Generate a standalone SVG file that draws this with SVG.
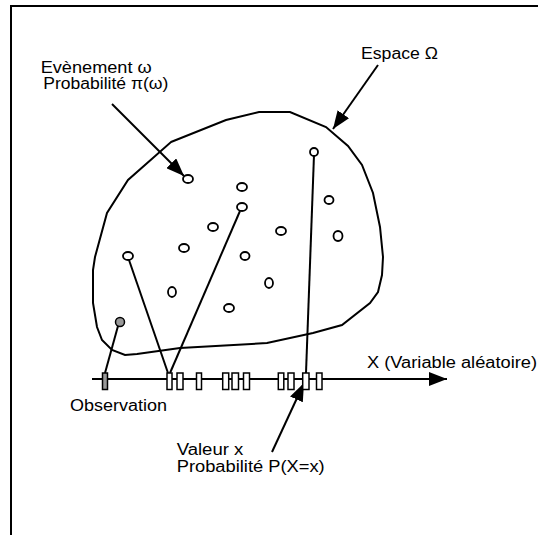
<svg xmlns="http://www.w3.org/2000/svg" width="538" height="535" viewBox="0 0 538 535">
<style>
.ln{fill:none;stroke:#000;stroke-width:2}
.dot{fill:#fff;stroke:#000;stroke-width:1.8}
.box{fill:#fff;stroke:#000;stroke-width:1.5}
.t{font-family:"Liberation Sans",Arial,sans-serif;font-size:16px;fill:#000}
</style>
<defs>
<marker id="ah" viewBox="0 0 18 14" refX="18" refY="7" markerWidth="18" markerHeight="14" markerUnits="userSpaceOnUse" orient="auto">
<path d="M0,0 L18,7 L0,14 Z" fill="#000"/>
</marker>
</defs>
<rect x="11" y="6" width="600" height="600" fill="#fff" stroke="#000" stroke-width="2"/>
<g id="espace">
<path class="ln" d="M171,142 L226,120 L259,112 L290,112 L326,127 L348,146 L362,165 L373,193 L380,227 L383,257 L382,275 L378,292 L370,303 L342,325 L313,333 L267,343 L180,348 L137,354 L125,355 L112,350 L102,340 L97,327 L93,303 L93,270 L95,257 L107,213 L128,180 Z"/>
</g>
<g id="connectors">
<line class="ln" x1="92" y1="379" x2="447" y2="379" marker-end="url(#ah)"/>
<line class="ln" x1="118" y1="326" x2="105" y2="373"/>
<line class="ln" x1="129" y1="260" x2="168" y2="373"/>
<line class="ln" x1="240" y1="211" x2="170" y2="373"/>
<line class="ln" x1="314" y1="155" x2="306" y2="373"/>
<line class="ln" x1="112" y1="104" x2="184" y2="176" marker-end="url(#ah)"/>
<line class="ln" x1="378" y1="65" x2="333" y2="129" marker-end="url(#ah)"/>
<line class="ln" x1="272" y1="452" x2="304" y2="383" marker-end="url(#ah)"/>
</g>
<g id="evenements">
<ellipse class="dot" cx="188" cy="179" rx="5" ry="4"/>
<ellipse class="dot" cx="242" cy="187" rx="5" ry="4"/>
<ellipse class="dot" cx="242" cy="207" rx="5" ry="4"/>
<ellipse class="dot" cx="213" cy="227" rx="5" ry="4"/>
<ellipse class="dot" cx="281" cy="231" rx="5" ry="4"/>
<ellipse class="dot" cx="184" cy="248" rx="5" ry="4"/>
<ellipse class="dot" cx="245" cy="256" rx="4.5" ry="4"/>
<ellipse class="dot" cx="128" cy="256" rx="5" ry="4"/>
<ellipse class="dot" cx="269" cy="283" rx="4" ry="5"/>
<ellipse class="dot" cx="172" cy="292" rx="4" ry="5"/>
<ellipse class="dot" cx="229" cy="308" rx="5" ry="4"/>
<ellipse class="dot" cx="314" cy="152" rx="4" ry="4"/>
<ellipse class="dot" cx="329" cy="200" rx="4.5" ry="4"/>
<ellipse class="dot" cx="338" cy="236" rx="4.5" ry="5"/>
<circle cx="120" cy="322" r="4.5" fill="#999" stroke="#000" stroke-width="1.5"/>
</g>
<g id="valeurs">
<rect x="102.5" y="373" width="5" height="16.5" fill="#999" stroke="#000" stroke-width="1.5"/>
<rect class="box" x="167" y="373" width="5" height="16.5"/>
<rect class="box" x="177" y="373" width="6" height="16.5"/>
<rect class="box" x="196.5" y="373" width="5" height="16.5"/>
<rect class="box" x="222.7" y="373" width="6" height="16.5"/>
<rect class="box" x="232" y="373" width="6.5" height="16.5"/>
<rect class="box" x="243.5" y="373" width="6" height="16.5"/>
<rect class="box" x="278.3" y="373" width="5.5" height="16.5"/>
<rect class="box" x="288" y="373" width="6" height="16.5"/>
<rect class="box" x="302.7" y="373" width="6.3" height="16.5"/>
<rect class="box" x="316.5" y="373" width="5.5" height="16.5"/>
</g>
<g id="labels">
<text class="t" x="40.7" y="72.5" textLength="111" lengthAdjust="spacingAndGlyphs">Evènement ω</text>
<text class="t" x="43.3" y="89" textLength="125" lengthAdjust="spacingAndGlyphs">Probabilité π(ω)</text>
<text class="t" x="361" y="59" textLength="77" lengthAdjust="spacingAndGlyphs">Espace Ω</text>
<text class="t" x="367" y="368" textLength="170" lengthAdjust="spacingAndGlyphs">X (Variable aléatoire)</text>
<text class="t" x="70" y="410.7" textLength="97" lengthAdjust="spacingAndGlyphs">Observation</text>
<text class="t" x="176.7" y="455" textLength="66.6" lengthAdjust="spacingAndGlyphs">Valeur x</text>
<text class="t" x="176.7" y="471.5" textLength="148" lengthAdjust="spacingAndGlyphs">Probabilité P(X=x)</text>
</g>
</svg>
